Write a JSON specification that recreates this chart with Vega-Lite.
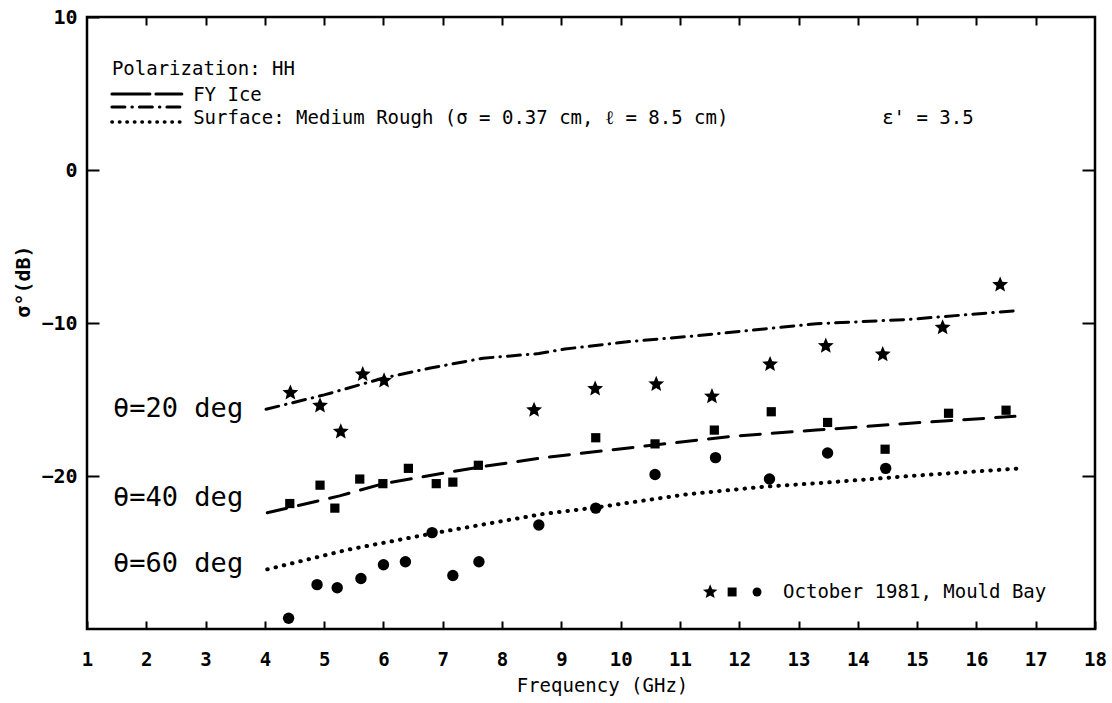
{
  "$schema": "https://vega.github.io/schema/vega-lite/v6.json",
  "width": 1008,
  "height": 612,
  "autosize": {"type": "none"},
  "padding": {"left": 87, "top": 17, "right": 17, "bottom": 74},
  "background": "white",
  "config": {
    "view": {"stroke": "black", "strokeWidth": 2.5},
    "axis": {"domain": false, "grid": false},
    "font": "DejaVu Sans Mono"
  },
  "datasets": {
    "obs": [
      {"angle": "20", "freq": 4.43, "sigma": -14.56},
      {"angle": "20", "freq": 4.93, "sigma": -15.4},
      {"angle": "20", "freq": 5.28, "sigma": -17.1},
      {"angle": "20", "freq": 5.65, "sigma": -13.35},
      {"angle": "20", "freq": 6.01, "sigma": -13.77},
      {"angle": "20", "freq": 8.54, "sigma": -15.69},
      {"angle": "20", "freq": 9.57, "sigma": -14.3},
      {"angle": "20", "freq": 10.6, "sigma": -14.0},
      {"angle": "20", "freq": 11.54, "sigma": -14.8},
      {"angle": "20", "freq": 12.52, "sigma": -12.7},
      {"angle": "20", "freq": 13.46, "sigma": -11.5},
      {"angle": "20", "freq": 14.42, "sigma": -12.05},
      {"angle": "20", "freq": 15.43, "sigma": -10.3},
      {"angle": "20", "freq": 16.4, "sigma": -7.5},
      {"angle": "40", "freq": 4.42, "sigma": -21.8},
      {"angle": "40", "freq": 4.93, "sigma": -20.6},
      {"angle": "40", "freq": 5.18, "sigma": -22.1},
      {"angle": "40", "freq": 5.6, "sigma": -20.2},
      {"angle": "40", "freq": 5.99, "sigma": -20.5},
      {"angle": "40", "freq": 6.42, "sigma": -19.5},
      {"angle": "40", "freq": 6.89, "sigma": -20.5},
      {"angle": "40", "freq": 7.17, "sigma": -20.4},
      {"angle": "40", "freq": 7.6, "sigma": -19.3},
      {"angle": "40", "freq": 9.58, "sigma": -17.5},
      {"angle": "40", "freq": 10.58, "sigma": -17.9},
      {"angle": "40", "freq": 11.58, "sigma": -17.0},
      {"angle": "40", "freq": 12.54, "sigma": -15.8},
      {"angle": "40", "freq": 13.49, "sigma": -16.5},
      {"angle": "40", "freq": 14.46, "sigma": -18.25},
      {"angle": "40", "freq": 15.53, "sigma": -15.9},
      {"angle": "40", "freq": 16.5, "sigma": -15.7},
      {"angle": "60", "freq": 4.4, "sigma": -29.3},
      {"angle": "60", "freq": 4.88, "sigma": -27.1},
      {"angle": "60", "freq": 5.22, "sigma": -27.3},
      {"angle": "60", "freq": 5.62, "sigma": -26.7},
      {"angle": "60", "freq": 6.0, "sigma": -25.8},
      {"angle": "60", "freq": 6.37, "sigma": -25.6},
      {"angle": "60", "freq": 6.82, "sigma": -23.7},
      {"angle": "60", "freq": 7.17, "sigma": -26.5},
      {"angle": "60", "freq": 7.61, "sigma": -25.6},
      {"angle": "60", "freq": 8.62, "sigma": -23.2},
      {"angle": "60", "freq": 9.58, "sigma": -22.1},
      {"angle": "60", "freq": 10.58, "sigma": -19.9},
      {"angle": "60", "freq": 11.6, "sigma": -18.8},
      {"angle": "60", "freq": 12.51, "sigma": -20.2},
      {"angle": "60", "freq": 13.49, "sigma": -18.5},
      {"angle": "60", "freq": 14.47, "sigma": -19.5}
    ],
    "model": [
      {"style": "dashdot", "freq": 4.02, "sigma": -15.64},
      {"style": "dashdot", "freq": 5.0, "sigma": -14.7},
      {"style": "dashdot", "freq": 6.0, "sigma": -13.6},
      {"style": "dashdot", "freq": 6.77, "sigma": -12.96},
      {"style": "dashdot", "freq": 7.68, "sigma": -12.3},
      {"style": "dashdot", "freq": 8.62, "sigma": -12.0},
      {"style": "dashdot", "freq": 9.06, "sigma": -11.7},
      {"style": "dashdot", "freq": 10.18, "sigma": -11.2},
      {"style": "dashdot", "freq": 11.15, "sigma": -10.88},
      {"style": "dashdot", "freq": 13.3, "sigma": -10.05},
      {"style": "dashdot", "freq": 14.88, "sigma": -9.76},
      {"style": "dashdot", "freq": 16.65, "sigma": -9.2},
      {"style": "dash", "freq": 4.04, "sigma": -22.4},
      {"style": "dash", "freq": 5.26, "sigma": -21.3},
      {"style": "dash", "freq": 6.0, "sigma": -20.5},
      {"style": "dash", "freq": 6.88, "sigma": -19.9},
      {"style": "dash", "freq": 7.65, "sigma": -19.4},
      {"style": "dash", "freq": 8.7, "sigma": -18.8},
      {"style": "dash", "freq": 10.57, "sigma": -17.97},
      {"style": "dash", "freq": 11.89, "sigma": -17.4},
      {"style": "dash", "freq": 13.3, "sigma": -17.0},
      {"style": "dash", "freq": 14.88, "sigma": -16.55},
      {"style": "dash", "freq": 16.65, "sigma": -16.1},
      {"style": "dot", "freq": 4.04, "sigma": -26.1},
      {"style": "dot", "freq": 5.42, "sigma": -24.8},
      {"style": "dot", "freq": 6.83, "sigma": -23.75},
      {"style": "dot", "freq": 8.66, "sigma": -22.5},
      {"style": "dot", "freq": 9.6, "sigma": -22.05},
      {"style": "dot", "freq": 11.11, "sigma": -21.2},
      {"style": "dot", "freq": 12.42, "sigma": -20.7},
      {"style": "dot", "freq": 13.4, "sigma": -20.45},
      {"style": "dot", "freq": 14.88, "sigma": -20.0},
      {"style": "dot", "freq": 16.75, "sigma": -19.5}
    ],
    "legendLines": [
      {"style": "legdash", "x": 1.42, "y": 4.97},
      {"style": "legdash", "x": 2.6, "y": 4.97},
      {"style": "dashdot", "x": 1.42, "y": 4.12},
      {"style": "dashdot", "x": 2.6, "y": 4.12},
      {"style": "dot", "x": 1.42, "y": 3.14},
      {"style": "dot", "x": 2.6, "y": 3.14}
    ],
    "legendMarks": [
      {"angle": "20", "x": 11.51, "y": -27.58},
      {"angle": "40", "x": 11.88, "y": -27.58},
      {"angle": "60", "x": 12.3, "y": -27.58}
    ],
    "notes": [
      {"label": "Polarization: HH", "x": 1.42, "y": 6.6},
      {"label": "FY Ice", "x": 2.79, "y": 4.87},
      {"label": "Surface: Medium Rough (σ = 0.37 cm, ℓ = 8.5 cm)", "x": 2.79, "y": 3.4},
      {"label": "ε' = 3.5", "x": 14.41, "y": 3.4},
      {"label": "October 1981, Mould Bay", "x": 12.74, "y": -27.58}
    ],
    "angles": [
      {"label": "θ=20 deg", "x": 1.44, "y": -15.62},
      {"label": "θ=40 deg", "x": 1.44, "y": -21.44},
      {"label": "θ=60 deg", "x": 1.44, "y": -25.75}
    ]
  },
  "layer": [
    {
      "data": {"name": "obs"},
      "transform": [{"filter": "datum.angle == '20'"}],
      "mark": {"type": "point", "filled": true, "color": "black", "opacity": 1, "size": 280,
               "shape": "M0,-1L0.265,-0.364L0.951,-0.309L0.428,0.139L0.588,0.809L0,0.45L-0.588,0.809L-0.428,0.139L-0.951,-0.309L-0.265,-0.364Z"},
      "encoding": {
        "x": {
          "field": "freq", "type": "quantitative",
          "scale": {"domain": [1, 18], "nice": false, "zero": false},
          "axis": {
            "orient": "bottom",
            "values": [1, 2, 3, 4, 5, 6, 7, 8, 9, 10, 11, 12, 13, 14, 15, 16, 17, 18],
            "tickSize": -8, "tickWidth": 2, "tickColor": "black",
            "labelPadding": 29, "labelFlush": false, "labelOverlap": false, "labelBound": false,
            "labelFont": "DejaVu Sans Mono", "labelFontSize": 19, "labelFontWeight": "bold", "labelColor": "black",
            "title": "Frequency (GHz)", "titleFont": "DejaVu Sans Mono", "titleFontSize": 19, "titleFontWeight": "normal",
            "titleColor": "black", "titleX": 515, "titleY": 56, "titleBaseline": "middle", "titleAlign": "center"
          }
        },
        "y": {
          "field": "sigma", "type": "quantitative",
          "scale": {"domain": [-30, 10], "nice": false, "zero": false},
          "axis": {
            "orient": "left",
            "values": [10, 0, -10, -20],
            "tickSize": -12, "tickWidth": 2, "tickColor": "black",
            "labelPadding": 22, "labelOverlap": false, "labelBound": false,
            "labelFont": "DejaVu Sans Mono", "labelFontSize": 20, "labelFontWeight": "bold", "labelColor": "black",
            "title": "σ°(dB)", "titleFont": "DejaVu Sans Mono", "titleFontSize": 20, "titleFontWeight": "bold",
            "titleColor": "black", "titleX": -64, "titleY": 264, "titleAngle": 270, "titleBaseline": "middle", "titleAlign": "center"
          }
        }
      }
    },
    {
      "data": {"name": "model"},
      "transform": [{"filter": "datum.style != 'dot'"}],
      "mark": {"type": "line", "color": "black", "strokeWidth": 3, "strokeCap": "round"},
      "encoding": {
        "x": {
          "field": "freq", "type": "quantitative",
          "axis": {
            "orient": "top", "values": [2, 3, 4, 5, 6, 7, 8, 9, 10, 11, 12, 13, 14, 15, 16, 17],
            "labels": false, "title": null, "tickSize": -8, "tickWidth": 2, "tickColor": "black"
          }
        },
        "y": {
          "field": "sigma", "type": "quantitative",
          "axis": {
            "orient": "right", "values": [0, -10, -20],
            "labels": false, "title": null, "tickSize": -13, "tickWidth": 2, "tickColor": "black"
          }
        },
        "strokeDash": {
          "field": "style", "type": "nominal",
          "scale": {"domain": ["dashdot", "dash", "legdash"], "range": [[13, 7, 0.5, 7], [20, 12], [38, 6]]},
          "legend": null
        }
      }
    },
    {
      "data": {"name": "model"},
      "transform": [{"filter": "datum.style == 'dot'"}],
      "mark": {"type": "line", "color": "black", "strokeWidth": 4, "strokeCap": "round", "strokeDash": [0.5, 8]},
      "encoding": {
        "x": {"field": "freq", "type": "quantitative", "axis": null},
        "y": {"field": "sigma", "type": "quantitative", "axis": null}
      }
    },
    {
      "data": {"name": "obs"},
      "transform": [{"filter": "datum.angle == '40'"}],
      "mark": {"type": "point", "filled": true, "color": "black", "opacity": 1, "size": 85, "shape": "square"},
      "encoding": {
        "x": {"field": "freq", "type": "quantitative", "axis": null},
        "y": {"field": "sigma", "type": "quantitative", "axis": null}
      }
    },
    {
      "data": {"name": "obs"},
      "transform": [{"filter": "datum.angle == '60'"}],
      "mark": {"type": "point", "filled": true, "color": "black", "opacity": 1, "size": 130, "shape": "circle"},
      "encoding": {
        "x": {"field": "freq", "type": "quantitative", "axis": null},
        "y": {"field": "sigma", "type": "quantitative", "axis": null}
      }
    },
    {
      "data": {"name": "legendLines"},
      "transform": [{"filter": "datum.style != 'dot'"}],
      "mark": {"type": "line", "color": "black", "strokeWidth": 3, "strokeCap": "round"},
      "encoding": {
        "x": {"field": "x", "type": "quantitative", "axis": null},
        "y": {"field": "y", "type": "quantitative", "axis": null},
        "strokeDash": {"field": "style", "type": "nominal", "legend": null}
      }
    },
    {
      "data": {"name": "legendLines"},
      "transform": [{"filter": "datum.style == 'dot'"}],
      "mark": {"type": "line", "color": "black", "strokeWidth": 3.5, "strokeCap": "round", "strokeDash": [0.5, 7]},
      "encoding": {
        "x": {"field": "x", "type": "quantitative", "axis": null},
        "y": {"field": "y", "type": "quantitative", "axis": null}
      }
    },
    {
      "data": {"name": "legendMarks"},
      "mark": {"type": "point", "filled": true, "color": "black", "opacity": 1, "size": 80},
      "encoding": {
        "x": {"field": "x", "type": "quantitative", "axis": null},
        "y": {"field": "y", "type": "quantitative", "axis": null},
        "shape": {
          "field": "angle", "type": "nominal",
          "scale": {"domain": ["20", "40", "60"], "range": ["M0,-1.7L0.45,-0.619L1.617,-0.525L0.728,0.236L1.0,1.375L0,0.765L-1.0,1.375L-0.728,0.236L-1.617,-0.525L-0.45,-0.619Z", "square", "circle"]},
          "legend": null
        }
      }
    },
    {
      "data": {"name": "notes"},
      "mark": {"type": "text", "align": "left", "baseline": "middle", "font": "DejaVu Sans Mono", "fontSize": 19, "color": "black"},
      "encoding": {
        "x": {"field": "x", "type": "quantitative", "axis": null},
        "y": {"field": "y", "type": "quantitative", "axis": null},
        "text": {"field": "label"}
      }
    },
    {
      "data": {"name": "angles"},
      "mark": {"type": "text", "align": "left", "baseline": "middle", "font": "DejaVu Sans Mono", "fontSize": 27, "color": "black"},
      "encoding": {
        "x": {"field": "x", "type": "quantitative", "axis": null},
        "y": {"field": "y", "type": "quantitative", "axis": null},
        "text": {"field": "label"}
      }
    }
  ]
}
